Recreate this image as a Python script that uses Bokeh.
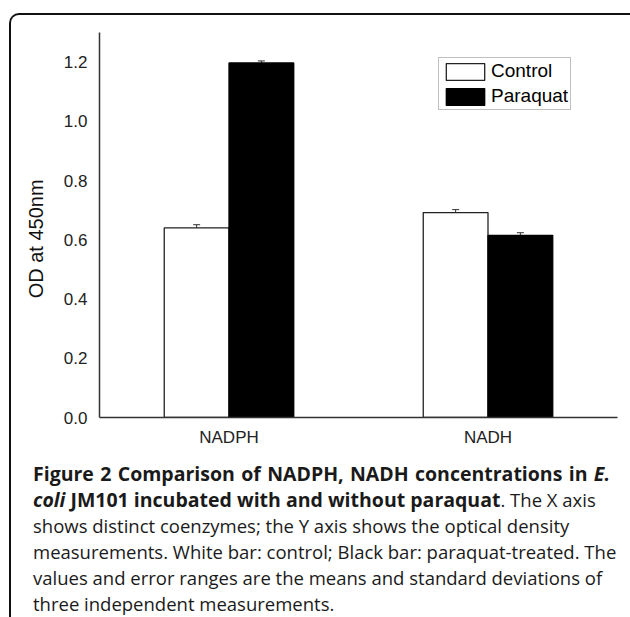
from bokeh.plotting import figure
from bokeh.layouts import column
from bokeh.models import (ColumnDataSource, FactorRange, FixedTicker, PrintfTickFormatter,
                          Whisker, TeeHead, Range1d, Div)
from bokeh.transform import dodge
from bokeh.embed import file_html
from bokeh.resources import INLINE

# ---- data ----
categories = ["NADPH", "NADH"]
control = [0.640, 0.692]
paraquat = [1.197, 0.615]
control_err = [0.011, 0.010]
paraquat_err = [0.007, 0.009]
y_ticks = [0.0, 0.2, 0.4, 0.6, 0.8, 1.0, 1.2]
series_names = ["Control", "Paraquat"]
y_label = "OD at 450nm"

caption_lines = [
    "<b>Figure 2 Comparison of NADPH, NADH concentrations in <i>E.</i></b>",
    "<b><i>coli</i> JM101 incubated with and without paraquat</b>. The X axis",
    "shows distinct coenzymes; the Y axis shows the optical density",
    "measurements. White bar: control; Black bar: paraquat-treated. The",
    "values and error ranges are the means and standard deviations of",
    "three independent measurements.",
]

src = ColumnDataSource(dict(
    cat=categories,
    control=control,
    paraquat=paraquat,
    control_up=[v + e for v, e in zip(control, control_err)],
    paraquat_up=[v + e for v, e in zip(paraquat, paraquat_err)],
))

FW, FH = 616, 435
p = figure(width=FW, height=FH, x_range=FactorRange(factors=categories, range_padding=0),
           y_range=Range1d(0, 1.3), output_backend="svg", toolbar_location=None,
           min_border_left=88, min_border_right=10, min_border_top=17, min_border_bottom=33)
p.outline_line_color = None
p.xgrid.visible = False
p.ygrid.visible = False
p.background_fill_alpha = 0
p.border_fill_alpha = 0

bw = 0.25
p.vbar(x=dodge("cat", -0.125, range=p.x_range), top="control", width=bw, source=src,
       fill_color="white", line_color="#222222", line_width=1.3, legend_label=series_names[0])
p.vbar(x=dodge("cat", 0.125, range=p.x_range), top="paraquat", width=bw, source=src,
       fill_color="black", line_color="black", line_width=1.3, legend_label=series_names[1])

for off, lo, hi in [(-0.125, "control", "control_up"), (0.125, "paraquat", "paraquat_up")]:
    w = Whisker(source=src, base=dodge("cat", off, range=p.x_range), lower=lo, upper=hi,
                line_color="#333333", line_width=1,
                upper_head=TeeHead(size=7, line_color="#333333", line_width=1), lower_head=None)
    p.add_layout(w)

# axes
for ax in (p.xaxis[0], p.yaxis[0]):
    ax.axis_line_color = "#333333"
    ax.axis_line_width = 1.5
    ax.major_tick_line_color = None
    ax.minor_tick_line_color = None
    ax.major_tick_out = 0
    ax.major_tick_in = 0
    ax.major_label_text_font = "Liberation Sans"
    ax.major_label_text_font_size = "17px"
    ax.major_label_text_color = "#222222"
p.yaxis.ticker = FixedTicker(ticks=y_ticks)
p.yaxis.formatter = PrintfTickFormatter(format="%.1f")
p.yaxis.major_label_standoff = 12
p.xaxis.major_label_standoff = 10
p.yaxis.axis_label = y_label + "\u00a0" * 5
p.yaxis.axis_label_text_font = "Liberation Sans"
p.yaxis.axis_label_text_font_size = "20px"
p.yaxis.axis_label_text_font_style = "normal"
p.yaxis.axis_label_text_color = "#111111"
p.yaxis.axis_label_standoff = 14

# legend
lg = p.legend[0]
lg.location = (339, 307)
lg.border_line_color = "#808080"
lg.border_line_width = 1
lg.background_fill_color = "white"
lg.background_fill_alpha = 1
lg.padding = 2
lg.spacing = 3
lg.margin = 0
lg.glyph_width = 48
lg.glyph_height = 21
lg.label_height = 21
lg.label_standoff = 2
lg.label_text_font = "Liberation Sans"
lg.label_text_font_size = "19px"
lg.label_text_color = "black"

# caption
line_divs = []
for i, t in enumerate(caption_lines):
    extra = "text-align:justify;text-align-last:justify;" if i == 0 else ""
    line_divs.append(f'<div style="height:26px;line-height:26px;white-space:nowrap;{extra}">{t}</div>')
html = ('<div style="font-family:\'Open Sans\';font-size:18.5px;line-height:26px;color:#1a1a1a;'
        'margin:0;padding:6px 0 0 17px;width:594px;">'
        '<style>b{font-size:19.5px;font-weight:700;}</style>' + "".join(line_divs) + '</div>')
cap = Div(text=html, width=FW, height=167)

layout = column(p, cap, styles={
    "margin-left": "9px", "margin-top": "13px",
    "border-top": "2px solid #111111", "border-left": "2px solid #111111",
    "border-right": "2px solid #111111", "border-radius": "10px 10px 0 0",
})

open("out.html", "w").write(file_html(layout, INLINE))
